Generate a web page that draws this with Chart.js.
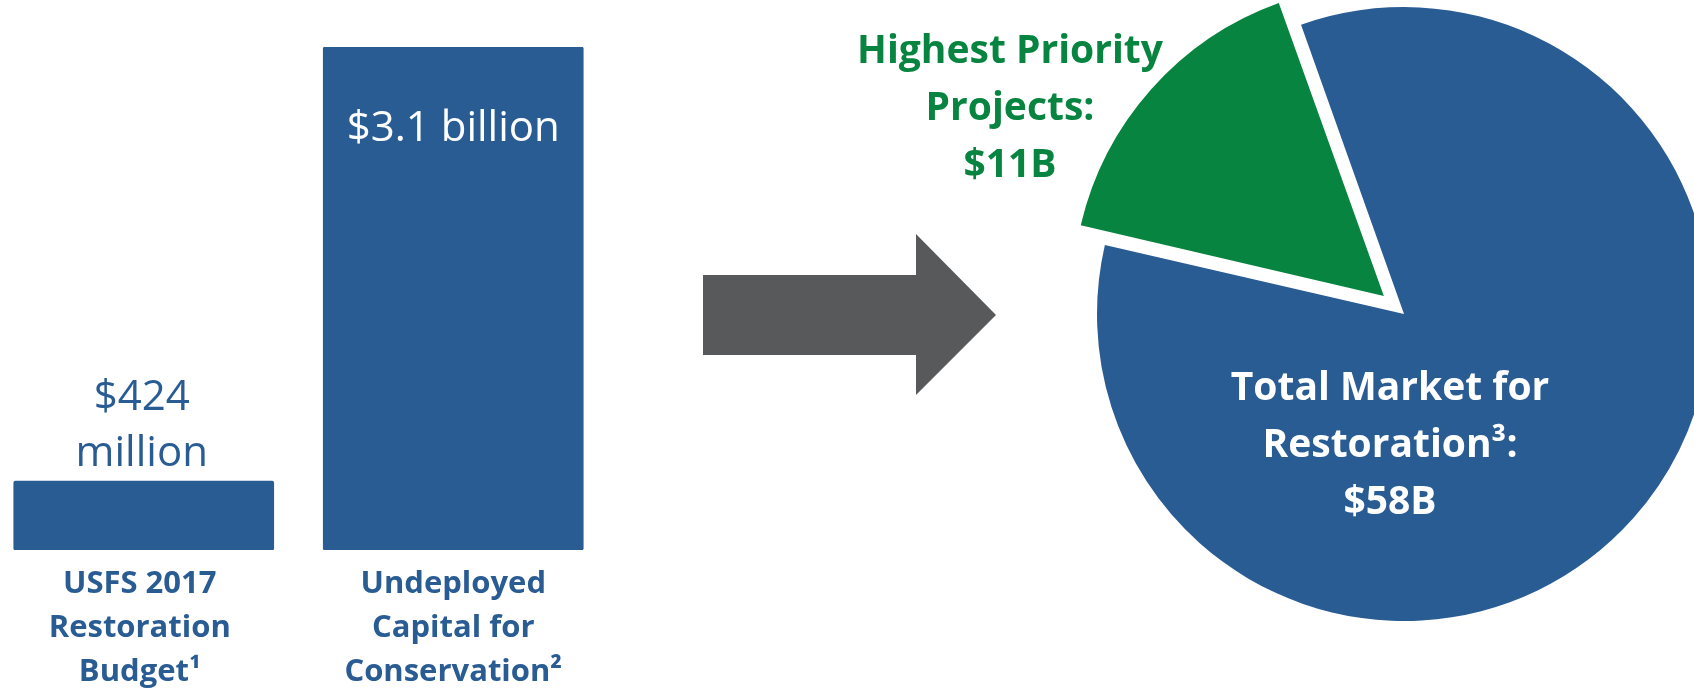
<!DOCTYPE html>
<html>
<head>
<meta charset="utf-8">
<script src="https://cdn.jsdelivr.net/npm/chart.js@4.4.1/dist/chart.umd.min.js"></script>
<style>
    html, body { margin: 0; padding: 0; background: #fff; overflow: hidden; }
    body { width: 1694px; height: 689px; position: relative; }
    #barWrap { position: absolute; left: -11px; top: 0; width: 619px; height: 689px; }
    #pieWrap { position: absolute; left: 680px; top: 0; width: 1448px; height: 689px; }
    #arrow {
        position: absolute; left: 703px; top: 234px; width: 293px; height: 161px;
        background: #58595b;
        clip-path: polygon(0 41px, 213px 41px, 213px 0, 293px 81px, 213px 161px, 213px 121px, 0 121px);
    }
</style>
</head>
<body>
<div id="barWrap"><canvas id="barChart"></canvas></div>
<div id="arrow"></div>
<div id="pieWrap"><canvas id="pieChart"></canvas></div>
<script>
// Bar data ($ millions)
const barCategories = [
    ['USFS 2017', 'Restoration', 'Budget\u00B9'],
    ['Undeployed', 'Capital for', 'Conservation\u00B2']
];
const barValues = [424, 3100];
const barValueLabels = [['$424', 'million'], ['$3.1 billion']];

// Pie data ($ billions)
const pieLabels = [
    ['Total Market for', 'Restoration\u00B3:', '$58B'],
    ['Highest Priority', 'Projects:', '$11B']
];
const pieValues = [58, 11];

const BLUE = '#2a5c94';
const GREEN = '#07843f';
const FONT = '"Open Sans", "Noto Sans", sans-serif';

// draws value labels and category labels for the bars
const barLabelPlugin = {
    id: 'barLabels',
    afterDatasetsDraw(chart) {
        const ctx = chart.ctx;
        const meta = chart.getDatasetMeta(0);
        const yScale = chart.scales.y;
        const base = yScale.getPixelForValue(0);
        ctx.save();
        ctx.textAlign = 'center';
        ctx.textBaseline = 'alphabetic';
        meta.data.forEach(function (bar, i) {
            const lines = barValueLabels[i];
            ctx.font = '42px ' + FONT;
            if (lines.length > 1) {
                // small bar: label sits above
                ctx.fillStyle = BLUE;
                ctx.fillText(lines[0], bar.x - 2, bar.y - 71);
                ctx.fillText(lines[1], bar.x - 2, bar.y - 15);
            } else {
                ctx.fillStyle = '#ffffff';
                ctx.fillText(lines[0], bar.x, bar.y + 94);
            }
            // category label below the bar
            ctx.font = 'bold 31px ' + FONT;
            ctx.fillStyle = BLUE;
            barCategories[i].forEach(function (txt, j) {
                ctx.fillText(txt, bar.x - 4 * (1 - i), base + 43 + j * 44);
            });
        });
        ctx.restore();
    }
};

new Chart(document.getElementById('barChart'), {
    type: 'bar',
    data: {
        labels: barCategories.map(function (c) { return c.join(' '); }),
        datasets: [{
            data: barValues,
            backgroundColor: BLUE,
            borderRadius: 2,
            borderSkipped: false,
            barThickness: 260
        }]
    },
    options: {
        responsive: true,
        maintainAspectRatio: false,
        animation: false,
        events: [],
        layout: { padding: { top: 47, bottom: 139, left: 0, right: 0 } },
        scales: {
            x: { display: false },
            y: { display: false, min: 0, max: 3100 }
        },
        plugins: {
            legend: { display: false },
            tooltip: { enabled: false }
        }
    },
    plugins: [barLabelPlugin]
});

// draws the slice labels
const pieLabelPlugin = {
    id: 'pieLabels',
    afterDatasetsDraw(chart) {
        const ctx = chart.ctx;
        const arcs = chart.getDatasetMeta(0).data;
        const cx = arcs[0].x, cy = arcs[0].y;
        ctx.save();
        ctx.textAlign = 'center';
        ctx.textBaseline = 'alphabetic';
        ctx.font = 'bold 39px ' + FONT;
        // blue slice label (inside)
        ctx.fillStyle = '#ffffff';
        pieLabels[0].forEach(function (txt, j) {
            ctx.fillText(txt, cx - 14, cy + 86 + j * 57);
        });
        // green slice label (outside, left)
        ctx.fillStyle = GREEN;
        pieLabels[1].forEach(function (txt, j) {
            ctx.fillText(txt, cx - 394, cy - 251 + j * 57);
        });
        ctx.restore();
    }
};

new Chart(document.getElementById('pieChart'), {
    type: 'pie',
    data: {
        labels: pieLabels.map(function (c) { return c.join(' '); }),
        datasets: [{
            data: pieValues,
            backgroundColor: [BLUE, GREEN],
            borderWidth: 0,
            offset: [0, 108] // chart.js moves an arc by offset / 4
        }]
    },
    options: {
        responsive: true,
        maintainAspectRatio: false,
        animation: false,
        events: [],
        rotation: -19.6,
        radius: 307,
        layout: { padding: { top: 0, bottom: 61, left: 0, right: 0 } },
        plugins: {
            legend: { display: false },
            tooltip: { enabled: false }
        }
    },
    plugins: [pieLabelPlugin]
});
</script>
</body>
</html>
